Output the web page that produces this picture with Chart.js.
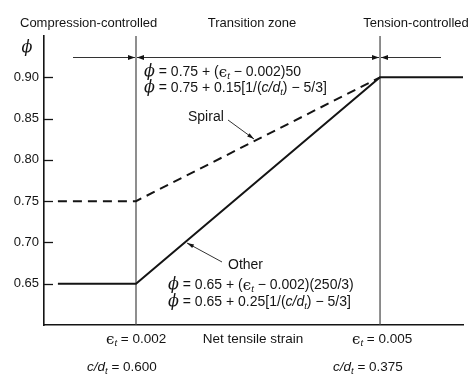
<!DOCTYPE html>
<html><head><meta charset="utf-8">
<script src="https://cdn.jsdelivr.net/npm/chart.js@4"></script>
<style>html,body{margin:0;padding:0;background:#fff}</style>
</head><body>
<canvas id="c" width="474" height="380" style="display:block;width:474px;height:380px"></canvas>
<script>
// ---- data ----
const strainPts = [0.00104, 0.002, 0.005, 0.00602];
const phiSpiral = [0.75, 0.75, 0.90];
const phiOther = [0.65, 0.65, 0.90, 0.90];
const zoneBounds = [0.002, 0.005];
const yTicks = [0.65, 0.70, 0.75, 0.80, 0.85, 0.90];
const yRange = [0.60, 0.95];
const xRange = [0.000869, 0.00602];
const zoneLabels = ['Compression-controlled', 'Transition zone', 'Tension-controlled'];
const strainLabels = ['0.002', '0.005'];
const cdLabels = ['0.600', '0.375'];
const xTitle = 'Net tensile strain';
const spiralEq = ['0.75', '0.002)50', '0.15[1/(', ') \u2212 5/3]'];
const otherEq = ['0.65', '0.002)(250/3)', '0.25[1/(', ') \u2212 5/3]'];

const INK = '#141414';
const SANS = '"Liberation Sans", Arial, Helvetica, sans-serif';
const F = {
  sans: '13px ' + SANS,
  eq: '14px ' + SANS,
  bot: '13.5px ' + SANS,
  it: 'italic 14px ' + SANS,
  itb: 'italic 13.5px ' + SANS,
  sub: 'italic 9.5px ' + SANS,
  phi: 'italic 16px "DejaVu Serif", serif',
  eps: '15px "DejaVu Serif", serif'
};

function runs(ctx, x, y, parts) {
  ctx.textBaseline = 'middle'; ctx.textAlign = 'left'; ctx.fillStyle = INK;
  for (const [t, f, dy] of parts) {
    ctx.font = f; ctx.fillText(t, x, y + (dy || 0));
    x += ctx.measureText(t).width;
  }
}
function head(ctx, x, y, ang, len, wid) {
  ctx.save(); ctx.translate(x, y); ctx.rotate(ang);
  ctx.beginPath(); ctx.moveTo(0, 0); ctx.lineTo(-len, -wid / 2); ctx.lineTo(-len, wid / 2); ctx.closePath();
  ctx.fill(); ctx.restore();
}
function leader(ctx, x1, y1, x2, y2) {
  ctx.beginPath(); ctx.moveTo(x1, y1); ctx.lineTo(x2, y2); ctx.stroke();
  head(ctx, x2, y2, Math.atan2(y2 - y1, x2 - x1), 7, 4);
}

const deco = {
  id: 'deco',
  afterDraw(chart) {
    const ctx = chart.ctx, xs = chart.scales.x, ys = chart.scales.y;
    const area = chart.chartArea;
    ctx.save();
    ctx.strokeStyle = INK; ctx.fillStyle = INK;
    // inward tick marks
    ctx.lineWidth = 1.3;
    for (const v of yTicks) {
      const py = Math.round(ys.getPixelForValue(v)) + 0.5;
      ctx.beginPath(); ctx.moveTo(area.left, py); ctx.lineTo(area.left + 9, py); ctx.stroke();
    }
    // zone arrows
    const xa = xs.getPixelForValue(zoneBounds[0]), xb = xs.getPixelForValue(zoneBounds[1]);
    const ay = 57.5;
    ctx.lineWidth = 1;
    ctx.strokeStyle = '#333';
    ctx.beginPath(); ctx.moveTo(73, ay); ctx.lineTo(xa - 1, ay); ctx.stroke();
    ctx.beginPath(); ctx.moveTo(xa + 1, ay); ctx.lineTo(xb - 1, ay); ctx.stroke();
    ctx.beginPath(); ctx.moveTo(xb + 1, ay); ctx.lineTo(441, ay); ctx.stroke();
    head(ctx, xa - 1, ay, 0, 7, 5); head(ctx, xa + 1, ay, Math.PI, 7, 5);
    head(ctx, xb - 1, ay, 0, 7, 5); head(ctx, xb + 1, ay, Math.PI, 7, 5);
    // zone labels
    ctx.fillStyle = INK; ctx.font = F.sans; ctx.textBaseline = 'middle';
    ctx.textAlign = 'left'; ctx.fillText(zoneLabels[0], 20, 23);
    ctx.textAlign = 'center'; ctx.fillText(zoneLabels[1], 252, 23);
    ctx.fillText(zoneLabels[2], 416, 23);
    // phi axis label
    ctx.font = F.phi; ctx.textAlign = 'center'; ctx.fillText('\u03D5', 27, 48);
    // upper equations
    runs(ctx, 144, 72, [['\u03D5', F.phi], [' = ' + spiralEq[0] + ' + (', F.eq], ['\u03F5', F.eps, 1], ['t', F.sub, 4], [' \u2212 ' + spiralEq[1], F.eq]]);
    runs(ctx, 144, 88, [['\u03D5', F.phi], [' = ' + spiralEq[0] + ' + ' + spiralEq[2], F.eq], ['c/d', F.it], ['t', F.sub, 4], [spiralEq[3], F.eq]]);
    // lower equations
    runs(ctx, 168, 285, [['\u03D5', F.phi], [' = ' + otherEq[0] + ' + (', F.eq], ['\u03F5', F.eps, 1], ['t', F.sub, 4], [' \u2212 ' + otherEq[1], F.eq]]);
    runs(ctx, 168, 302, [['\u03D5', F.phi], [' = ' + otherEq[0] + ' + ' + otherEq[2], F.eq], ['c/d', F.it], ['t', F.sub, 4], [otherEq[3], F.eq]]);
    // series labels
    runs(ctx, 188, 117, [['Spiral', F.eq]]);
    runs(ctx, 228, 265, [['Other', F.eq]]);
    ctx.lineWidth = 1; ctx.strokeStyle = '#333';
    leader(ctx, 228, 120, 254, 139);
    leader(ctx, 222, 262, 187, 243);
    // bottom labels
    runs(ctx, 106, 339, [['\u03F5', F.eps, 1], ['t', F.sub, 4], [' = ' + strainLabels[0], F.bot]]);
    runs(ctx, 352, 339, [['\u03F5', F.eps, 1], ['t', F.sub, 4], [' = ' + strainLabels[1], F.bot]]);
    ctx.font = F.bot; ctx.textAlign = 'center'; ctx.fillText(xTitle, 253, 339);
    runs(ctx, 87, 367, [['c/d', F.itb], ['t', F.sub, 4], [' = ' + cdLabels[0], F.bot]]);
    runs(ctx, 333, 367, [['c/d', F.itb], ['t', F.sub, 4], [' = ' + cdLabels[1], F.bot]]);
    ctx.restore();
  }
};

const vline = v => [{x: v, y: yRange[0]}, {x: v, y: yRange[1]}];

new Chart(document.getElementById('c'), {
  type: 'line',
  data: {
    datasets: [
      {label: 'Spiral', data: phiSpiral.map((p, i) => ({x: strainPts[i], y: p})), borderColor: INK, borderWidth: 2, borderDash: [9, 6], pointRadius: 0, tension: 0},
      {label: 'Other', data: phiOther.map((p, i) => ({x: strainPts[i], y: p})), borderColor: INK, borderWidth: 2, pointRadius: 0, tension: 0},
      {label: 'b1', data: vline(zoneBounds[0]), borderColor: '#444', borderWidth: 1.2, pointRadius: 0},
      {label: 'b2', data: vline(zoneBounds[1]), borderColor: '#444', borderWidth: 1.2, pointRadius: 0}
    ]
  },
  options: {
    responsive: false, animation: false, devicePixelRatio: 1,
    layout: {padding: {top: 36, right: 11, left: 0, bottom: 0}},
    plugins: {legend: {display: false}, tooltip: {enabled: false}, title: {display: false}},
    scales: {
      x: {type: 'linear', min: xRange[0], max: xRange[1],
          ticks: {display: false}, grid: {display: false, drawTicks: false},
          border: {display: true, color: INK, width: 1.6},
          afterFit: s => { s.height = 55; }},
      y: {type: 'linear', min: yRange[0], max: yRange[1],
          afterBuildTicks: s => { s.ticks = yTicks.map(v => ({value: v})); },
          ticks: {padding: 5, color: INK, font: {family: SANS, size: 13}, callback: v => Number(v).toFixed(2)},
          grid: {display: false, drawTicks: false},
          border: {display: true, color: INK, width: 1.6},
          afterFit: s => { s.width = 44; }}
    }
  },
  plugins: [deco]
});
</script>
</body></html>
